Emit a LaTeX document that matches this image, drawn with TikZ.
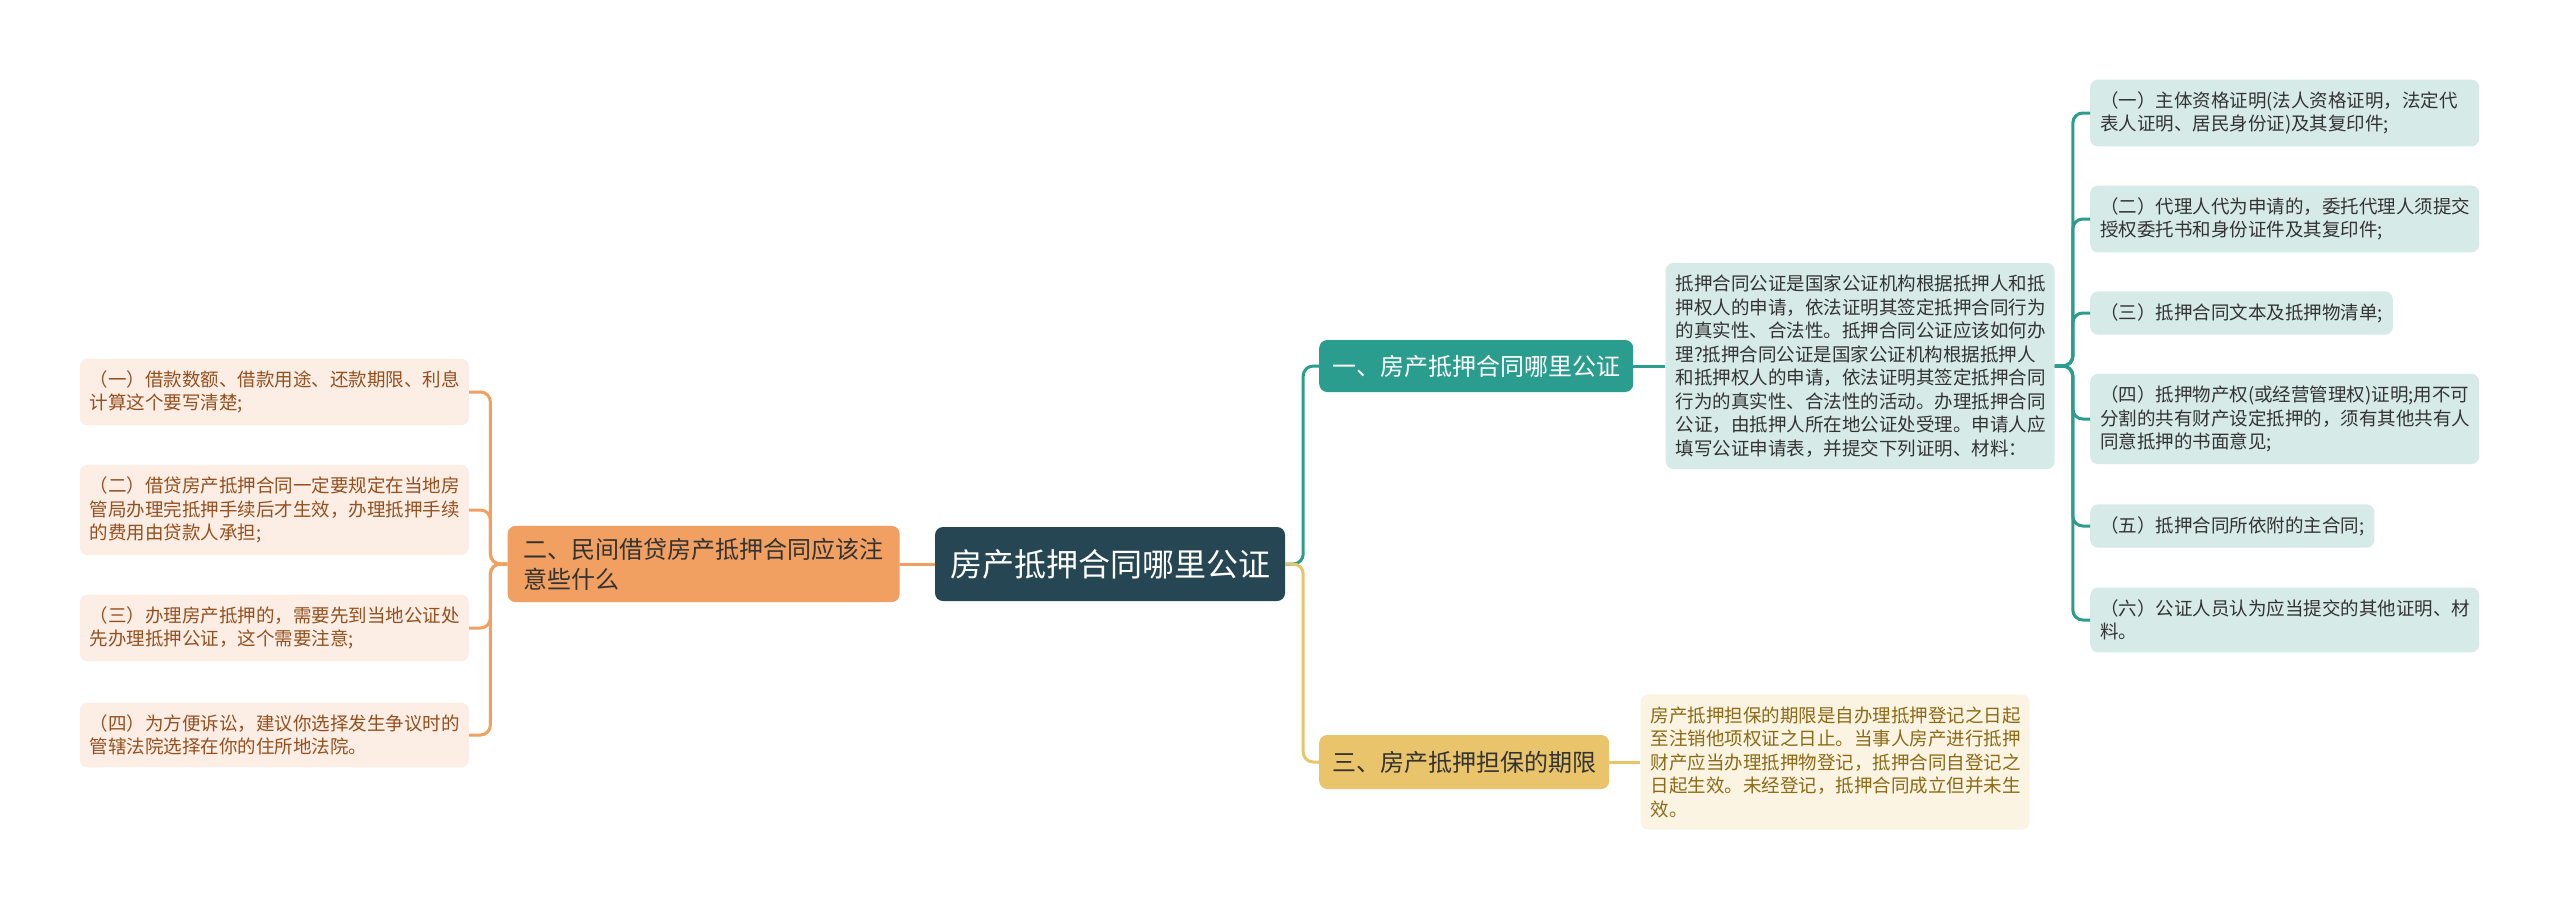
\documentclass[tikz,border=0pt]{standalone}
\usepackage{fontspec}
\newfontfamily\cjk{Noto Sans CJK SC}
\usepackage{xcolor}
\usepackage{tikz}
\usetikzlibrary{positioning}
\definecolor{rootc}{HTML}{264653}
\definecolor{tealc}{HTML}{2A9D8F}
\definecolor{goldc}{HTML}{E9C46A}
\definecolor{orangec}{HTML}{F2A062}
\definecolor{tealbg}{HTML}{D6EAE8}
\definecolor{goldbg}{HTML}{FCF4E2}
\definecolor{orangebg}{HTML}{FDEEE5}
\definecolor{goldtxt}{HTML}{8C6A16}
\definecolor{orangetxt}{HTML}{94501F}
\definecolor{darktxt}{HTML}{333333}
\tikzset{
  leaf/.style = {rounded corners=8pt, align=left, inner xsep=10pt, inner ysep=12pt,
                 font=\cjk\fontsize{18.5}{23.5}\selectfont},
  wide/.style = {text width=369pt},
  branch/.style = {rounded corners=8pt, align=left, inner xsep=13pt, inner ysep=12pt,
                   font=\cjk\fontsize{24}{30}\selectfont},
  link/.style = {line width=3pt, rounded corners=10pt}
}

\begin{document}
\begin{tikzpicture}[x=1pt,y=-1pt,node distance=36pt]
  \fill[white] (0,0) rectangle (2560,911);
  \useasboundingbox (0,0) rectangle (2560,911);

  % centre and main branches
  \node[rounded corners=8pt, fill=rootc, text=white, font=\cjk\fontsize{32}{38}\selectfont,
        minimum width=350pt, minimum height=74pt] (root) at (1110,564) {房产抵押合同哪里公证};
  \node[branch, fill=tealc, text=white, minimum height=52pt, anchor=west] (b1) at (1319,366) {一、房产抵押合同哪里公证};
  \node[branch, fill=orangec, text=darktxt, inner xsep=16pt, anchor=east] (b2) [left=35pt of root] {二、民间借贷房产抵押合同应该注\\意些什么};
  \node[branch, fill=goldc, text=darktxt, minimum height=54pt, anchor=west] (b3) at (1319,762) {三、房产抵押担保的期限};

  % detail texts
  \node[leaf, wide, fill=tealbg, text=darktxt] (t1) [right=32pt of b1] {抵押合同公证是国家公证机构根据抵押人和抵\\押权人的申请，依法证明其签定抵押合同行为\\的真实性、合法性。抵押合同公证应该如何办\\理?抵押合同公证是国家公证机构根据抵押人\\和抵押权人的申请，依法证明其签定抵押合同\\行为的真实性、合法性的活动。办理抵押合同\\公证，由抵押人所在地公证处受理。申请人应\\填写公证申请表，并提交下列证明、材料：};
  \node[leaf, wide, fill=goldbg, text=goldtxt] (t3) [right=31pt of b3] {房产抵押担保的期限是自办理抵押登记之日起\\至注销他项权证之日止。当事人房产进行抵押\\财产应当办理抵押物登记，抵押合同自登记之\\日起生效。未经登记，抵押合同成立但并未生\\效。};

  % right column
  \node[leaf, wide, fill=tealbg, text=darktxt, anchor=west] (r1) at (2090,113) {（一）主体资格证明(法人资格证明，法定代\\表人证明、居民身份证)及其复印件;};
  \node[leaf, wide, fill=tealbg, text=darktxt, anchor=west] (r2) at (2090,219) {（二）代理人代为申请的，委托代理人须提交\\授权委托书和身份证件及其复印件;};
  \node[leaf, fill=tealbg, text=darktxt, anchor=west] (r3) at (2090,313) {（三）抵押合同文本及抵押物清单;};
  \node[leaf, wide, fill=tealbg, text=darktxt, anchor=west] (r4) at (2090,419) {（四）抵押物产权(或经营管理权)证明;用不可\\分割的共有财产设定抵押的，须有其他共有人\\同意抵押的书面意见;};
  \node[leaf, fill=tealbg, text=darktxt, anchor=west] (r5) at (2090,526) {（五）抵押合同所依附的主合同;};
  \node[leaf, wide, fill=tealbg, text=darktxt, anchor=west] (r6) at (2090,620) {（六）公证人员认为应当提交的其他证明、材\\料。};

  % left column
  \node[leaf, wide, fill=orangebg, text=orangetxt, anchor=east] (l1) at (469,392) {（一）借款数额、借款用途、还款期限、利息\\计算这个要写清楚;};
  \node[leaf, wide, fill=orangebg, text=orangetxt, anchor=east] (l2) at (469,510) {（二）借贷房产抵押合同一定要规定在当地房\\管局办理完抵押手续后才生效，办理抵押手续\\的费用由贷款人承担;};
  \node[leaf, wide, fill=orangebg, text=orangetxt, anchor=east] (l3) at (469,628) {（三）办理房产抵押的，需要先到当地公证处\\先办理抵押公证，这个需要注意;};
  \node[leaf, wide, fill=orangebg, text=orangetxt, anchor=east] (l4) at (469,735) {（四）为方便诉讼，建议你选择发生争议时的\\管辖法院选择在你的住所地法院。};

  % connectors
  \draw[link, tealc] (root.east) -- ++(18,0) |- (b1.west);
  \draw[link, goldc] (root.east) -- ++(18,0) |- (b3.west);
  \draw[link, orangec] (root.west) -- (b2.east);
  \draw[link, tealc] (b1.east) -- (t1.west);
  \draw[link, goldc] (b3.east) -- (t3.west);
  \foreach \n in {r1,r2,r3,r4,r5,r6}
    \draw[link, tealc] (t1.east) -- ++(18,0) |- (\n.west);
  \foreach \n in {l1,l2,l3,l4}
    \draw[link, orangec] (b2.west) -- ++(-17,0) |- (\n.east);
\end{tikzpicture}
\end{document}
